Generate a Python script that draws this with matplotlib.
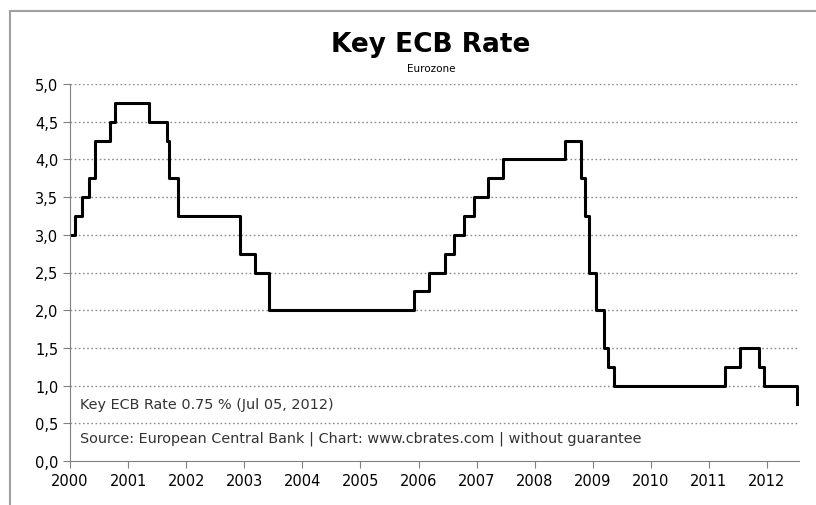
import numpy as np
import pandas as pd
from matplotlib import pyplot as plt
from matplotlib.lines import Line2D

# ECB main refinancing rate, change dates and new rate (%)
fechas = ["2000-01-01", "2000-02-04", "2000-03-17", "2000-04-28", "2000-06-09",
          "2000-09-06", "2000-10-11", "2001-05-15", "2001-08-31", "2001-09-18",
          "2001-11-09", "2002-12-06", "2003-03-07", "2003-06-06", "2005-12-06",
          "2006-03-08", "2006-06-15", "2006-08-09", "2006-10-11", "2006-12-13",
          "2007-03-14", "2007-06-13", "2008-07-09", "2008-10-15", "2008-11-12",
          "2008-12-10", "2009-01-21", "2009-03-11", "2009-04-08", "2009-05-13",
          "2011-04-13", "2011-07-13", "2011-11-09", "2011-12-14", "2012-07-05"]
tasas = [3.00, 3.25, 3.50, 3.75, 4.25,
         4.50, 4.75, 4.50, 4.25, 3.75,
         3.25, 2.75, 2.50, 2.00, 2.25,
         2.50, 2.75, 3.00, 3.25, 3.50,
         3.75, 4.00, 4.25, 3.75, 3.25,
         2.50, 2.00, 1.50, 1.25, 1.00,
         1.25, 1.50, 1.25, 1.00, 0.75]

anios = list(range(2000, 2013))
yticks = np.arange(0, 5.01, 0.5)

d = pd.to_datetime(fechas)
x = d.year + (d.dayofyear - 1) / 365.25

fig = plt.figure(figsize=(8.16, 5.06), dpi=100)
ax = fig.add_axes([70/816, 44/506, 729/816, 377/506])

ax.plot(x, tasas, drawstyle="steps-post", color="black", lw=2.2)

ax.set_xlim(2000, 2012.55)
ax.set_ylim(0, 5)
ax.set_xticks(anios)
ax.set_xticklabels([str(a) for a in anios], fontsize=10.5)
ax.set_yticks(yticks)
ax.set_yticklabels([f"{v:.1f}".replace(".", ",") for v in yticks], fontsize=10.5)

for v in yticks[1:]:
    ax.axhline(v, color="#8c8c8c", lw=1, ls=(0, (1.2, 1.8)), zorder=0)

for s in ["top", "right"]:
    ax.spines[s].set_visible(False)
for s in ["left", "bottom"]:
    ax.spines[s].set_color("#808080")
ax.tick_params(colors="#808080", labelcolor="black", length=5)

ax.text(0.014, 0.152, "Key ECB Rate 0.75 % (Jul 05, 2012)", transform=ax.transAxes,
        fontsize=10.4, color="#333333", va="center")
ax.text(0.014, 0.061, "Source: European Central Bank | Chart: www.cbrates.com | without guarantee",
        transform=ax.transAxes, fontsize=10.4, color="#333333", va="center")

fig.text(431/816, 1 - 45/506, "Key ECB Rate", ha="center", va="center", fontsize=19, fontweight="bold")
fig.text(431/816, 1 - 69/506, "Eurozone", ha="center", va="center", fontsize=7.5)

# marco gris del grafico
fig.add_artist(Line2D([10/816, 1], [1 - 12/506, 1 - 12/506], color="#a0a0a0", lw=1.5, transform=fig.transFigure))
fig.add_artist(Line2D([10/816, 10/816], [0, 1 - 12/506], color="#a0a0a0", lw=1.5, transform=fig.transFigure))

plt.savefig("out.png", dpi=100)
